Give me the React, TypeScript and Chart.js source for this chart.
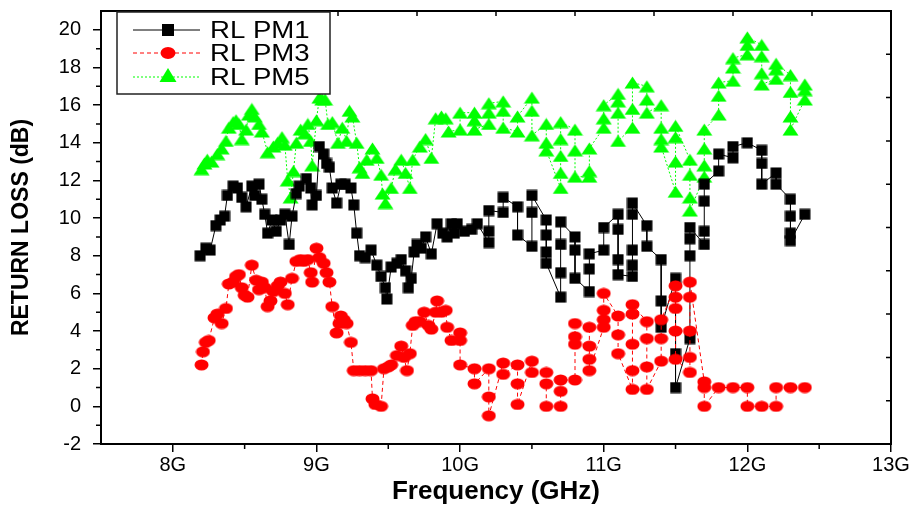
import React, { useEffect, useRef } from 'react';
import { Chart, registerables } from 'chart.js';

Chart.register(...registerables);

// ---------------- data ----------------
const seriesNames = ['RL PM1', 'RL PM3', 'RL PM5'];

const pm1X = [
  8.19, 8.23, 8.26, 8.30, 8.33, 8.36, 8.38, 8.42, 8.45, 8.48,
  8.51, 8.55, 8.57, 8.60, 8.62, 8.64, 8.66, 8.69, 8.72, 8.75,
  8.78, 8.81, 8.83, 8.86, 8.88, 8.93, 8.96, 8.97, 9.00, 9.02,
  9.05, 9.07, 9.09, 9.11, 9.14, 9.17, 9.20, 9.24, 9.26, 9.28,
  9.30, 9.34, 9.38, 9.42, 9.45, 9.48, 9.49, 9.52, 9.56, 9.59,
  9.62, 9.64, 9.66, 9.68, 9.70, 9.73, 9.76, 9.80, 9.84, 9.88,
  9.91, 9.94, 9.96, 9.98, 10.03, 10.08, 10.12,
  10.2, 10.2, 10.2,
  10.3, 10.3,
  10.4, 10.4,
  10.5, 10.5, 10.5,
  10.6, 10.6, 10.6, 10.6,
  10.7, 10.7, 10.7, 10.7,
  10.8, 10.8, 10.8,
  10.9, 10.9, 10.9,
  11.0, 11.0,
  11.1, 11.1, 11.1, 11.1,
  11.2, 11.2, 11.2, 11.2, 11.2,
  11.3, 11.3,
  11.4, 11.4, 11.4,
  11.5, 11.5, 11.5,
  11.6, 11.6, 11.6, 11.6,
  11.7, 11.7, 11.7, 11.7,
  11.8, 11.8,
  11.9, 11.9,
  12.0,
  12.1, 12.1, 12.1,
  12.2, 12.2,
  12.3, 12.3, 12.3, 12.3,
  12.4,
];
const pm1Y = [
  8.0, 8.4, 8.3, 9.6, 9.9, 10.1, 11.2, 11.7, 11.6, 11.1,
  10.6, 11.7, 11.2, 11.8, 11.0, 10.2, 9.2, 9.9, 9.3, 9.9,
  10.2, 8.6, 10.1, 11.3, 11.7, 12.1, 11.6, 10.7, 11.2, 13.8,
  13.4, 12.9, 12.7, 11.6, 10.8, 11.8, 11.8, 11.6, 10.7, 9.2,
  8.0, 7.9, 8.3, 7.5, 6.9, 6.3, 5.7, 7.4, 7.6, 7.8,
  7.2, 6.3, 6.8, 8.2, 8.6, 8.4, 9.0, 8.1, 9.7, 9.2,
  9.0, 9.7, 9.2, 9.7, 9.3, 9.4, 9.7,
  8.7, 9.3, 10.4,
  10.3, 11.1,
  10.6, 9.1,
  8.5, 10.3, 11.2,
  9.9, 9.1, 8.2, 7.6,
  5.8, 7.1, 8.6, 9.8,
  9.0, 8.3, 6.8,
  6.1, 7.3, 8.1,
  8.3, 9.5,
  10.2, 9.4, 7.8, 7.0,
  6.9, 7.5, 8.3, 10.2, 10.8,
  9.6, 8.5,
  7.8, 5.6, 4.2,
  6.8, 2.8, 1.0,
  3.6, 8.0, 8.9, 9.5,
  8.6, 9.3, 10.9, 11.8,
  12.5, 13.4,
  13.2, 13.8,
  14.0,
  13.6, 12.9, 11.8,
  12.4, 11.8,
  11.0, 10.1, 9.2, 8.8,
  10.2,
];

const pm3X = [
  8.20, 8.21, 8.23, 8.25, 8.29, 8.31, 8.34, 8.37, 8.39, 8.42,
  8.44, 8.46, 8.48, 8.50, 8.52, 8.55, 8.58, 8.60, 8.62, 8.64,
  8.66, 8.68, 8.70, 8.73, 8.75, 8.78, 8.80, 8.83, 8.86, 8.89,
  8.91, 8.94, 8.96, 8.97, 9.00, 9.02, 9.05, 9.07, 9.09, 9.11,
  9.14, 9.16, 9.17, 9.19, 9.21, 9.24, 9.26, 9.30, 9.34, 9.38,
  9.39, 9.41, 9.45, 9.47, 9.50, 9.52, 9.56, 9.59, 9.61, 9.63,
  9.65, 9.67, 9.69, 9.72, 9.75, 9.78, 9.80, 9.83, 9.84, 9.87,
  9.90, 9.91, 9.94,
  10.0, 10.0, 10.0,
  10.1, 10.1,
  10.2, 10.2, 10.2,
  10.3, 10.3,
  10.4, 10.4, 10.4,
  10.5, 10.5,
  10.6, 10.6, 10.6,
  10.7, 10.7, 10.7,
  10.8, 10.8, 10.8, 10.8,
  10.9, 10.9, 10.9, 10.9,
  11.0, 11.0, 11.0, 11.0,
  11.1, 11.1, 11.1,
  11.2, 11.2, 11.2, 11.2, 11.2,
  11.3, 11.3, 11.3, 11.3,
  11.4, 11.4, 11.4,
  11.5, 11.5, 11.5, 11.5, 11.5,
  11.6, 11.6, 11.6, 11.6, 11.6,
  11.7, 11.7, 11.7,
  11.8,
  11.9,
  12.0, 12.0,
  12.1,
  12.2, 12.2,
  12.3,
  12.4,
];
const pm3Y = [
  2.2, 2.9, 3.4, 3.5, 4.7, 4.9, 4.4, 5.2, 6.5, 6.6,
  6.9, 7.0, 6.3, 5.9, 5.8, 7.5, 6.7, 6.2, 6.6, 6.3,
  5.3, 5.6, 6.1, 6.4, 6.6, 6.0, 5.4, 6.8, 7.7, 7.8,
  7.7, 7.8, 7.1, 6.6, 8.4, 7.9, 7.6, 7.1, 6.6, 5.3,
  3.9, 4.4, 4.8, 4.6, 4.4, 3.4, 1.9, 1.9, 1.9, 1.9,
  0.4, 0.1, 0.0, 2.0, 2.1, 2.2, 2.7, 3.2, 2.6, 1.9,
  2.8, 4.3, 4.5, 4.5, 5.0, 4.3, 4.1, 5.0, 5.6, 5.0,
  5.1, 4.2, 3.5,
  3.9, 3.5, 2.2,
  2.0, 1.2,
  2.0, 0.5, -0.5,
  2.3, 1.7,
  2.2, 1.2, 0.1,
  2.4, 1.8,
  1.8, 1.2, 0.0,
  0.0, 0.8, 1.4,
  1.4, 3.3, 3.7, 4.4,
  4.2, 3.2, 2.5, 1.9,
  4.2, 4.6, 5.1, 6.0,
  4.8, 3.8, 2.8,
  0.9, 1.9, 3.3, 4.9, 5.4,
  4.5, 3.6, 2.1, 0.9,
  2.4, 3.6, 4.6,
  6.4, 5.8, 5.2, 4.0, 2.5,
  1.8, 2.6, 4.0, 5.8, 6.6,
  1.3, 1.0, 0.0,
  1.0,
  1.0,
  1.0, 0.0,
  0.0,
  0.0, 1.0,
  1.0,
  1.0,
];

const pm5X = [
  8.20, 8.22, 8.24, 8.27, 8.31, 8.34, 8.37, 8.39, 8.42, 8.44,
  8.46, 8.48, 8.51, 8.53, 8.55, 8.57, 8.60, 8.62, 8.66, 8.70,
  8.73, 8.76, 8.78, 8.80, 8.82, 8.84, 8.86, 8.89, 8.92, 8.94,
  8.96, 8.97, 9.00, 9.02, 9.04, 9.06, 9.08, 9.11, 9.15, 9.18,
  9.21, 9.23, 9.25, 9.28, 9.30, 9.32, 9.35, 9.39, 9.42, 9.45,
  9.46, 9.48, 9.52, 9.55, 9.59, 9.62, 9.65, 9.67, 9.72, 9.76,
  9.80, 9.83, 9.87, 9.90, 9.92,
  10.0, 10.0,
  10.1, 10.1, 10.1,
  10.2, 10.2, 10.2,
  10.3, 10.3, 10.3,
  10.4, 10.4,
  10.5, 10.5, 10.5,
  10.6, 10.6, 10.6,
  10.7, 10.7, 10.7, 10.7, 10.7,
  10.8, 10.8, 10.8,
  10.9, 10.9, 10.9,
  11.0, 11.0, 11.0,
  11.1, 11.1, 11.1, 11.1,
  11.2, 11.2, 11.2,
  11.3, 11.3, 11.3,
  11.4, 11.4, 11.4, 11.4,
  11.5, 11.5, 11.5, 11.5,
  11.6, 11.6, 11.6, 11.6,
  11.7, 11.7, 11.7, 11.7,
  11.8, 11.8, 11.8,
  11.9, 11.9, 11.9,
  12.0, 12.0, 12.0,
  12.1, 12.1, 12.1, 12.1,
  12.2, 12.2, 12.2,
  12.3, 12.3, 12.3, 12.3,
  12.4, 12.4, 12.4,
];
const pm5Y = [
  12.6, 12.9, 13.1, 13.0, 13.4, 13.7, 14.1, 14.8, 15.1, 15.2,
  15.0, 14.2, 14.7, 15.5, 15.8, 15.4, 15.0, 14.6, 13.5, 13.8,
  14.0, 14.3, 13.9, 12.0, 11.1, 12.5, 14.0, 14.7, 14.5, 15.0,
  14.1, 12.8, 15.2, 16.4, 16.3, 16.3, 15.0, 15.1, 14.0, 14.8,
  14.1, 15.7, 15.4, 14.0, 12.7, 12.4, 13.1, 13.7, 13.2, 12.3,
  11.3, 10.8, 11.6, 12.6, 13.1, 12.4, 11.6, 13.1, 13.8, 14.2,
  13.2, 15.3, 15.4, 15.3, 14.6,
  14.7, 15.6,
  15.6, 15.2, 14.7,
  15.0, 15.6, 16.1,
  16.2, 15.7, 14.8,
  14.6, 15.4,
  16.4, 15.7, 14.4,
  15.0, 14.0, 13.6,
  11.6, 12.4, 13.3, 14.2, 15.1,
  14.7, 13.6, 12.2,
  12.2, 12.5, 13.7,
  14.8, 15.3, 16.0,
  16.6, 16.2, 15.6, 14.1,
  14.8, 15.8, 17.2,
  17.0, 16.3, 15.6,
  16.0, 14.8, 14.2, 13.8,
  11.4, 13.0, 14.3, 14.9,
  13.1, 12.3, 11.1, 10.4,
  12.2, 12.8, 13.7, 14.7,
  15.5, 16.5, 17.2,
  17.3, 18.0, 18.5,
  18.7, 19.2, 19.6,
  19.2, 18.6, 17.7, 17.1,
  17.4, 17.9, 18.2,
  17.6, 16.7, 15.4, 14.7,
  16.3, 16.8, 17.1,
];

const xTicks = [8, 9, 10, 11, 12, 13];
const xMinorTicks = [8.5, 9.5, 10.5, 11.5, 12.5];
const yTicks = [-2, 0, 2, 4, 6, 8, 10, 12, 14, 16, 18, 20];
const yMinorTicks = [-1, 1, 3, 5, 7, 9, 11, 13, 15, 17, 19];
const xLabelSuffix = 'G';

const FONT = '"Liberation Sans", Arial, Helvetica, sans-serif';

const toPoints = (xs: number[], ys: number[]) => xs.map((x, i) => ({ x, y: ys[i] }));

// ---------------- drawing helpers ----------------
function drawMarker(ctx: CanvasRenderingContext2D, kind: string, x: number, y: number, color: string) {
  ctx.save();
  ctx.setLineDash([]);
  ctx.fillStyle = color;
  ctx.beginPath();
  if (kind === 'rect') {
    ctx.rect(x - 6, y - 6, 12, 12);
  } else if (kind === 'circle') {
    ctx.ellipse(x, y, 7.5, 6, 0, 0, Math.PI * 2);
  } else {
    ctx.moveTo(x, y - 9);
    ctx.lineTo(x + 8.5, y + 5);
    ctx.lineTo(x - 8.5, y + 5);
    ctx.closePath();
  }
  ctx.fill();
  ctx.restore();
}

function makeMarkerImage(kind: string, color: string, w: number, h: number) {
  const c = document.createElement('canvas');
  c.width = w;
  c.height = h;
  const g = c.getContext('2d') as CanvasRenderingContext2D;
  g.fillStyle = color;
  g.beginPath();
  if (kind === 'ellipse') {
    g.ellipse(w / 2, h / 2, w / 2 - 0.5, h / 2 - 0.5, 0, 0, Math.PI * 2);
  } else if (kind === 'rect') {
    g.rect(0.5, 0.5, w - 1, h - 1);
  } else {
    g.moveTo(w / 2, 0.5);
    g.lineTo(w - 0.5, h - 0.5);
    g.lineTo(0.5, h - 0.5);
    g.closePath();
  }
  g.fill();
  return c;
}

const legendStyles = [
  { color: '#000000', dash: [] as number[], marker: 'rect' },
  { color: '#ff0000', dash: [4, 3], marker: 'circle' },
  { color: '#00ff00', dash: [2, 2], marker: 'triangle' },
];

const framePlugin = {
  id: 'frameAndLegend',
  afterDraw(chart: any) {
    const { ctx, chartArea: a, scales } = chart;
    const xs = scales.x;
    const ys = scales.y;
    ctx.save();
    ctx.strokeStyle = '#000';
    ctx.setLineDash([]);
    ctx.lineWidth = 2;
    ctx.strokeRect(a.left, a.top, a.right - a.left, a.bottom - a.top);
    ctx.lineWidth = 1.5;
    ctx.beginPath();
    for (const v of xMinorTicks) {
      const px = xs.getPixelForValue(v);
      ctx.moveTo(px, a.bottom);
      ctx.lineTo(px, a.bottom + 5);
    }
    for (const v of yMinorTicks) {
      const py = ys.getPixelForValue(v);
      ctx.moveTo(a.left - 5, py);
      ctx.lineTo(a.left, py);
    }
    const w = a.right - a.left;
    const h = a.bottom - a.top;
    for (let i = 1; i < 10; i++) {
      const px = a.left + (i * w) / 10;
      ctx.moveTo(px, a.top);
      ctx.lineTo(px, a.top + 5);
      const py = a.top + (i * h) / 10;
      ctx.moveTo(a.right - 5, py);
      ctx.lineTo(a.right, py);
    }
    ctx.stroke();

    // legend
    const lx = a.left + 16;
    const ly = a.top + 1;
    const lw = 213;
    const lh = 82;
    ctx.fillStyle = '#fff';
    ctx.fillRect(lx, ly, lw, lh);
    ctx.strokeStyle = '#222';
    ctx.lineWidth = 1.5;
    ctx.strokeRect(lx, ly, lw, lh);
    const rows = [ly + 18, ly + 41, ly + 65];
    seriesNames.forEach((name, i) => {
      const st = legendStyles[i];
      const y = rows[i];
      ctx.strokeStyle = st.color;
      ctx.lineWidth = 1;
      ctx.setLineDash(st.dash);
      ctx.beginPath();
      ctx.moveTo(lx + 16, y);
      ctx.lineTo(lx + 83, y);
      ctx.stroke();
      drawMarker(ctx, st.marker, lx + 51, y, st.color);
      ctx.save();
      ctx.setLineDash([]);
      ctx.translate(lx + 93, y + 1);
      ctx.scale(1.15, 1);
      ctx.fillStyle = '#000';
      ctx.font = `24px ${FONT}`;
      ctx.textBaseline = 'middle';
      ctx.textAlign = 'left';
      ctx.fillText(name, 0, 0);
      ctx.restore();
    });
    ctx.restore();
  },
};

export default function App() {
  const ref = useRef<HTMLCanvasElement | null>(null);

  useEffect(() => {
    if (!ref.current) return;
    Chart.defaults.font.family = FONT;
    Chart.defaults.color = '#000';
    const squareImg = makeMarkerImage('rect', '#000000', 12, 12);
    const ellipseImg = makeMarkerImage('ellipse', '#ff0000', 15, 12);
    const triImg = makeMarkerImage('triangle', '#00ff00', 17, 13);
    const chart = new Chart(ref.current, {
      type: 'line',
      data: {
        datasets: [
          {
            label: seriesNames[0],
            data: toPoints(pm1X, pm1Y),
            borderColor: '#000000',
            backgroundColor: '#000000',
            borderWidth: 1,
            pointStyle: squareImg as any,
            pointRadius: 6,
            tension: 0,
            order: 1,
          },
          {
            label: seriesNames[1],
            data: toPoints(pm3X, pm3Y),
            borderColor: '#ff0000',
            backgroundColor: '#ff0000',
            borderWidth: 1,
            borderDash: [4, 3],
            pointStyle: ellipseImg as any,
            pointRadius: 6,
            tension: 0,
            order: 0,
          },
          {
            label: seriesNames[2],
            data: toPoints(pm5X, pm5Y),
            borderColor: '#00ff00',
            backgroundColor: '#00ff00',
            borderWidth: 1,
            borderDash: [2, 2],
            pointStyle: triImg as any,
            pointRadius: 7,
            tension: 0,
            order: 2,
          },
        ],
      },
      options: {
        responsive: false,
        animation: false,
        events: [],
        layout: { padding: { top: 11, right: 22, left: 0, bottom: 0 } },
        plugins: {
          legend: { display: false },
          tooltip: { enabled: false },
          title: { display: false },
        },
        scales: {
          x: {
            type: 'linear',
            min: 7.5,
            max: 13,
            afterBuildTicks: (s: any) => {
              s.ticks = xTicks.map((v) => ({ value: v }));
            },
            afterFit: (s: any) => {
              s.height = 66;
              s.paddingLeft = 0;
              s.paddingRight = 0;
            },
            ticks: {
              font: { size: 20 },
              color: '#000',
              padding: 1,
              maxRotation: 0,
              autoSkip: false,
              callback: (v: any) => `${v}${xLabelSuffix}`,
            },
            grid: { drawOnChartArea: false, drawTicks: true, tickLength: 8, color: '#000', lineWidth: 1.5 },
            border: { display: false },
            title: {
              display: true,
              text: 'Frequency (GHz)',
              font: { size: 26, weight: 'bold' },
              color: '#000',
              padding: { top: 0, bottom: 3 },
            },
          },
          y: {
            type: 'linear',
            min: -2,
            max: 21,
            afterBuildTicks: (s: any) => {
              s.ticks = yTicks.map((v) => ({ value: v }));
            },
            afterFit: (s: any) => {
              s.width = 101;
              s.paddingTop = 0;
              s.paddingBottom = 0;
            },
            ticks: {
              font: { size: 20 },
              color: '#000',
              padding: 12,
              autoSkip: false,
            },
            grid: { drawOnChartArea: false, drawTicks: true, tickLength: 8, color: '#000', lineWidth: 1.5 },
            border: { display: false },
            title: {
              display: true,
              text: 'RETURN LOSS (dB)',
              font: { size: 23, weight: 'bold' },
              color: '#000',
              padding: { top: 8, bottom: 0 },
            },
          },
        },
      },
      plugins: [framePlugin],
    });
    return () => chart.destroy();
  }, []);

  return (
    <div style={{ position: 'absolute', left: 0, top: 0, width: 913, height: 510, background: '#fff' }}>
      <canvas ref={ref} width={913} height={510} />
    </div>
  );
}
